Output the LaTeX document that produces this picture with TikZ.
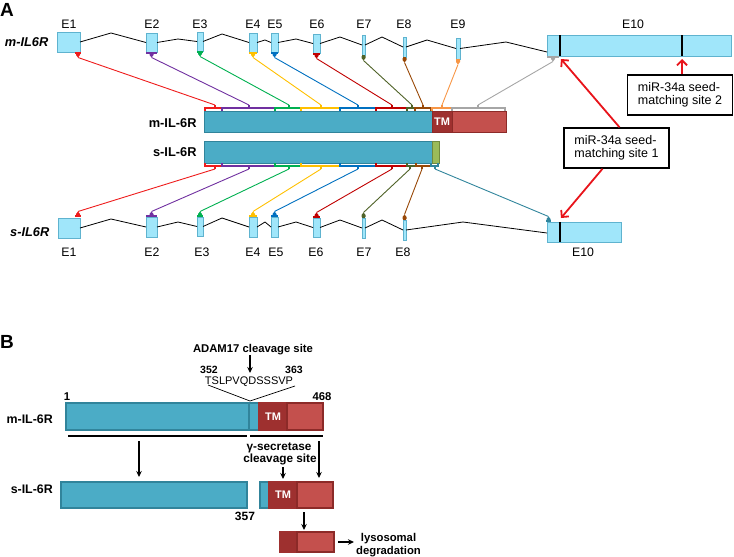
\documentclass[tikz,border=0pt]{standalone}
\usepackage{fontspec}
\setmainfont{Liberation Sans}
\usetikzlibrary{arrows.meta,calc}
\definecolor{exfill}{HTML}{A0E6FA}
\definecolor{exdraw}{HTML}{5FB3CF}
\definecolor{teal1}{HTML}{4BACC6}
\definecolor{teal2}{HTML}{31849B}
\definecolor{tmdark}{HTML}{9E302F}
\definecolor{tmlight}{HTML}{C4504D}
\definecolor{tmedge}{HTML}{8C2A28}
\definecolor{sgreen}{HTML}{9BBB59}
\definecolor{sgreenE}{HTML}{71893F}
\definecolor{cRed}{HTML}{EE1C1C}
\definecolor{cPur}{HTML}{7030A0}
\definecolor{cGrn}{HTML}{00B050}
\definecolor{cYel}{HTML}{FFC000}
\definecolor{cBlu}{HTML}{0070C0}
\definecolor{cDrd}{HTML}{C00000}
\definecolor{cOli}{HTML}{4F6228}
\definecolor{cBrn}{HTML}{984807}
\definecolor{cOrg}{HTML}{F79646}
\definecolor{cGry}{HTML}{A6A6A6}
\definecolor{cTea}{HTML}{31859C}
\definecolor{arrRed}{HTML}{E8141B}
\begin{document}
\begin{tikzpicture}[x=1pt,y=-1pt,
  exon/.style={draw=exdraw, fill=exfill, line width=0.7pt, inner sep=0pt, outer sep=0pt, anchor=north west},
  intron/.style={line width=0.8pt, draw=black},
  conn/.style={line width=0.9pt},
  brk/.style={line width=1.4pt},
  elabel/.style={font=\fontsize{12.3}{14}\selectfont, inner sep=0pt, anchor=base},
  glabel/.style={font=\bfseries\itshape\fontsize{12.8}{14}\selectfont, inner sep=0pt, anchor=base east},
  plabel/.style={font=\bfseries\fontsize{12.8}{14}\selectfont, inner sep=0pt, anchor=base east},
  bar/.style={inner sep=0pt, outer sep=0pt, anchor=north west, line width=0.8pt},
  tmtext/.style={text=white, font=\bfseries\fontsize{11}{12}\selectfont},
  mirbox/.style={draw=black, line width=1.5pt, fill=white, minimum width=105pt, minimum height=40pt, align=left, inner sep=0pt, font=\fontsize{12.5}{13.5}\selectfont},
  redarr/.style={draw=arrRed, line width=1.8pt, -{Straight Barb[length=5pt,width=10pt]}},
  bfnt/.style={font=\bfseries\fontsize{11.3}{12.7}\selectfont, inner sep=0pt},
  barr/.style={draw=black, line width=1.1pt, -{Stealth[length=6pt,width=5.5pt]}},
  panel/.style={font=\bfseries\fontsize{19}{20}\selectfont, inner sep=0pt, anchor=base west}
]
\useasboundingbox (0,0) rectangle (734,557);

% ---------------- Panel A ----------------
\node[panel] (labA) at (0,16.7) {A};

% gene labels
\node[glabel] (gm) at (48.5,46.7) {m-IL6R};
\node[glabel] (gs) at (49.5,236.7) {s-IL6R};

% top exons
\foreach \n/\x/\y/\w/\h in {1/57/32/23pt/20pt, 2/146/33/11pt/19pt, 3/197/32/6pt/19pt, 4/249/33/8pt/19pt,
  5/271/33/7pt/19pt, 6/313/34/7pt/19pt, 7/362/35/3pt/20pt, 8/403/37/3pt/20pt, 9/456/38/4pt/21pt, 10/547/35/184pt/21pt}
  {\node[exon, minimum width=\w, minimum height=\h] (tE\n) at (\x,\y) {};}
% bottom exons
\foreach \n/\x/\y/\w/\h in {1/58/218/22pt/20pt, 2/146/217/11pt/20pt, 3/197/217/6pt/19pt, 4/249/217/8pt/20pt,
  5/271/217/7pt/20pt, 6/313/218/7pt/19pt, 7/362/218/3pt/20pt, 8/403/220/3pt/20pt, 10/547/222/74pt/20pt}
  {\node[exon, minimum width=\w, minimum height=\h] (bE\n) at (\x,\y) {};}

% exon labels
\foreach \n/\x in {1/69, 2/152, 3/200, 4/253, 5/275, 6/317, 7/364, 8/404, 9/458}
  {\node[elabel] (tl\n) at (\x,28.5) {E\n};}
\node[elabel] (tl10) at (633,28.5) {E10};
\foreach \n/\x in {1/69, 2/152, 3/202, 4/253, 5/276, 6/316, 7/364, 8/403}
  {\node[elabel] (bl\n) at (\x,256) {E\n};}
\node[elabel] (bl10) at (583,256.5) {E10};

% introns top
\draw[intron] (tE1.east) -- (111,33) -- (tE2.west);
\draw[intron] (tE2.east) -- (178,39) -- (tE3.west);
\draw[intron] (tE3.east) -- (222,34) -- (tE4.west);
\draw[intron] (tE4.east) -- (265,40) -- (tE5.west);
\draw[intron] (tE5.east) -- (296,39) -- (tE6.west);
\draw[intron] (tE6.east) -- (340,37) -- (tE7.west);
\draw[intron] (tE7.east) -- (382,37) -- (tE8.west);
\draw[intron] (tE8.east) -- (427,40) -- (tE9.west);
\draw[intron] (tE9.east) -- (506,42) -- ($(tE10.south west)+(0,-4)$);
% introns bottom
\draw[intron] (bE1.east) -- (111,219) -- (bE2.west);
\draw[intron] (bE2.east) -- (178,222) -- (bE3.west);
\draw[intron] (bE3.east) -- (222,218) -- (bE4.west);
\draw[intron] (bE4.east) -- (265,222) -- (bE5.west);
\draw[intron] (bE5.east) -- (296,222) -- (bE6.west);
\draw[intron] (bE6.east) -- (340,220) -- (bE7.west);
\draw[intron] (bE7.east) -- (382,220) -- (bE8.west);
\draw[intron] (bE8.east) -- (463,222) -- ($(bE10.south west)+(0,-9)$);

% seed site lines in E10
\draw[line width=1.8pt] ($(tE10.north west)+(13,0)$) coordinate (s1a) -- ($(tE10.south west)+(13,0)$) coordinate (s1b);
\draw[line width=1.8pt] ($(tE10.north west)+(135,0)$) coordinate (s2a) -- ($(tE10.south west)+(135,0)$) coordinate (s2b);
\draw[line width=1.8pt] ($(bE10.north west)+(13,0)$) coordinate (s1c) -- ($(bE10.south west)+(13,0)$) coordinate (s1d);

% markers under top exons
\foreach \n/\col/\a/\b/\y in {1/cRed/75/81/52, 2/cPur/146/157/52, 3/cGrn/197/203/51, 4/cYel/249/257/52,
  5/cBlu/271/278/52, 6/cDrd/313/320/53, 7/cOli/362/365/55, 8/cBrn/403/406/57, 9/cOrg/456/460/59, 10/cGry/547/559/56}{
  \pgfmathsetmacro\c{(\a+\b)/2}
  \fill[\col] (\a,\y) rectangle (\b,\y+2.2);
  \fill[\col] (\c-2,\y+1) -- (\c+2,\y+1) -- (\c+2,\y+3) -- (\c,\y+5.5) -- (\c-2,\y+3) -- cycle;
  \coordinate (mt\n) at (\c,\y+5.5);
}
% markers above bottom exons
\foreach \n/\col/\a/\b/\y in {1/cRed/75/81/217, 2/cPur/146/157/217, 3/cGrn/197/203/217, 4/cYel/249/257/217,
  5/cBlu/271/278/217, 6/cDrd/313/320/218, 7/cOli/362/365/218, 8/cBrn/403/406/220, 10/cTea/546/551/222}{
  \pgfmathsetmacro\c{(\a+\b)/2}
  \fill[\col] (\a,\y-2.2) rectangle (\b,\y);
  \fill[\col] (\c-2,\y-1) -- (\c+2,\y-1) -- (\c+2,\y-3) -- (\c,\y-5.5) -- (\c-2,\y-3) -- cycle;
  \coordinate (mb\n) at (\c,\y-5.5);
}

% protein bars (A)
\node[plabel] (pm) at (196.7,127.3) {m-IL-6R};
\node[plabel] (ps) at (196.7,156.7) {s-IL-6R};
\node[bar, fill=teal1, draw=teal2, minimum width=228pt, minimum height=21pt] (mA1) at (204,111) {};
\node[bar, fill=tmdark, draw=tmedge, minimum width=20pt, minimum height=21pt, tmtext] (mA2) at (432,111) {TM};
\node[bar, fill=tmlight, draw=tmedge, minimum width=54pt, minimum height=21pt] (mA3) at (452,111) {};
\node[bar, fill=teal1, draw=teal2, minimum width=228pt, minimum height=22pt] (sA1) at (204,141) {};
\node[bar, fill=sgreen, draw=sgreenE, minimum width=7pt, minimum height=22pt] (sA2) at (432,141) {};

% brackets above m-IL-6R
\foreach \n/\col/\a/\b/\c in {1/cRed/205/222/215, 2/cPur/222/275/249, 3/cGrn/275/301/289, 4/cYel/301/340/321,
  5/cBlu/340/376/358, 6/cDrd/376/407/392, 7/cOli/407/415/412, 8/cBrn/415/431/423, 9/cOrg/432/452/442, 10/cGry/452/505/478}{
  \draw[\col, brk] (\a,111) -- (\a,108) -- (\b,108) -- (\b,111);
  \draw[\col, brk] (\c,108) -- (\c,105) coordinate (bt\n);
}
% brackets below s-IL-6R
\foreach \n/\col/\a/\b/\c in {1/cRed/205/222/215, 2/cPur/222/275/249, 3/cGrn/275/301/289, 4/cYel/301/340/321,
  5/cBlu/340/376/358, 6/cDrd/376/407/392, 7/cOli/407/416/410, 8/cBrn/416/431/422, 10/cTea/431/438/435}{
  \draw[\col, brk] (\a,163) -- (\a,166) -- (\b,166) -- (\b,163);
  \draw[\col, brk] (\c,166) -- (\c,169) coordinate (bb\n);
}

% connectors
\foreach \n/\col in {1/cRed, 2/cPur, 3/cGrn, 4/cYel, 5/cBlu, 6/cDrd, 7/cOli, 8/cBrn, 9/cOrg, 10/cGry}
  {\draw[\col, conn] (mt\n) -- (bt\n);}
\foreach \n/\col in {1/cRed, 2/cPur, 3/cGrn, 4/cYel, 5/cBlu, 6/cDrd, 7/cOli, 8/cBrn, 10/cTea}
  {\draw[\col, conn] (bb\n) -- (mb\n);}

% miR-34a boxes
\node[mirbox] (mir1) at (616.5,148) {miR-34a seed-\\matching site 1};
\node[mirbox] (mir2) at (680,95) {miR-34a seed-\\matching site 2};
\coordinate (t1) at ($(s1b)+(1,3)$);
\coordinate (t2) at ($(s2b)+(0,3)$);
\coordinate (t3) at ($(s1c)+(1,-4)$);
\draw[redarr] ([xshift=3pt]mir1.north) -- (t1);
\draw[redarr] ([xshift=-14pt]mir1.south) -- (t3);
\draw[redarr] (mir2.north -| t2) -- (t2);

% ---------------- Panel B ----------------
\node[panel] (labB) at (0,348.3) {B};

\node[bfnt, anchor=base] (adam) at (253,352.5) {ADAM17 cleavage site};
\node[bfnt, anchor=base, font=\bfseries\fontsize{10.5}{12}\selectfont] (n352) at (209,373.3) {352};
\node[bfnt, anchor=base, font=\bfseries\fontsize{10.5}{12}\selectfont] (n363) at (294,373.3) {363};
\node[inner sep=0pt, anchor=base, font=\fontsize{11}{12}\selectfont] (seq) at (249,384) {TSLPVQDSSSVP};
\node[bfnt, anchor=base] (n1) at (67,400.7) {1};
\node[bfnt, anchor=base] (n468) at (322,400.7) {468};

\node[plabel, font=\bfseries\fontsize{12.4}{14}\selectfont] (pmB) at (53,423.3) {m-IL-6R};
\node[plabel, font=\bfseries\fontsize{12.4}{14}\selectfont] (psB) at (53,493.3) {s-IL-6R};

\node[bar, line width=1.1pt, fill=teal1, draw=teal2, minimum width=183pt, minimum height=27pt] (mB1) at (66,403) {};
\node[bar, line width=1.1pt, fill=teal1, draw=teal2, minimum width=10pt, minimum height=27pt] (mB2) at (249,403) {};
\node[bar, line width=1.1pt, fill=tmdark, draw=tmdark, minimum width=28pt, minimum height=27pt, tmtext] (mB3) at (259,403) {TM};
\node[bar, line width=1.1pt, fill=tmlight, draw=tmedge, minimum width=36pt, minimum height=27pt] (mB4) at (287,403) {};

\node[bar, line width=1.1pt, fill=teal1, draw=teal2, minimum width=186pt, minimum height=26pt] (sB1) at (61,482) {};
\node[bar, line width=1.1pt, fill=teal1, draw=teal2, minimum width=9pt, minimum height=26pt] (sB2) at (260,482) {};
\node[bar, line width=1.1pt, fill=tmdark, draw=tmdark, minimum width=28pt, minimum height=26pt, tmtext] (sB3) at (269,482) {TM};
\node[bar, line width=1.1pt, fill=tmlight, draw=tmedge, minimum width=36pt, minimum height=26pt] (sB4) at (297,482) {};

\node[bar, line width=1.1pt, fill=tmdark, draw=tmdark, minimum width=17pt, minimum height=20pt] (lB1) at (280,532) {};
\node[bar, line width=1.1pt, fill=tmlight, draw=tmedge, minimum width=37pt, minimum height=20pt] (lB2) at (297,532) {};

% cleavage arrow and sequence lines
\coordinate (adamtip) at (250,373);
\draw[barr] (adam.south -| adamtip) -- (adamtip);
\coordinate (cut) at (250,401);
\coordinate (q1) at (208,385);
\coordinate (q2) at (295,386);
\draw[line width=0.7pt] (q1) -- (cut) -- (q2);

% fragment lines
\coordinate (h1) at (68,436);
\coordinate (h2) at (247,436);
\coordinate (h3) at (250,436);
\coordinate (h4) at (323,436);
\draw[line width=1.4pt] (h1) -- (h2);
\draw[line width=1.4pt] (h3) -- (h4);

\node[bfnt, anchor=base, font=\bfseries\fontsize{11.8}{13}\selectfont] (gam) at (279,450.5) {γ-secretase};
\node[bfnt, anchor=base, font=\bfseries\fontsize{11.8}{13}\selectfont] (gam2) at (280,462.5) {cleavage site};

\coordinate (a1s) at (139,441);
\coordinate (a1e) at (139,477);
\draw[barr] (a1s) -- (a1e);
\coordinate (a2s) at (283,467);
\coordinate (a2e) at (283,479);
\draw[barr] (a2s) -- (a2e);
\coordinate (a3s) at (319,441);
\coordinate (a3e) at (319,478);
\draw[barr] (a3s) -- (a3e);

\node[bfnt, anchor=base, font=\bfseries\fontsize{12}{14}\selectfont] (n357) at (245,520.7) {357};

\coordinate (a4s) at (304,512);
\coordinate (a4e) at (304,530);
\draw[barr] (a4s) -- (a4e);

\node[bfnt, align=center, anchor=west] (lyso) at (356,545) {lysosomal\\degradation};
\draw[barr] ([xshift=4pt]lB2.east) -- ([xshift=-2pt]lyso.west |- lB2.east);
\end{tikzpicture}
\end{document}
